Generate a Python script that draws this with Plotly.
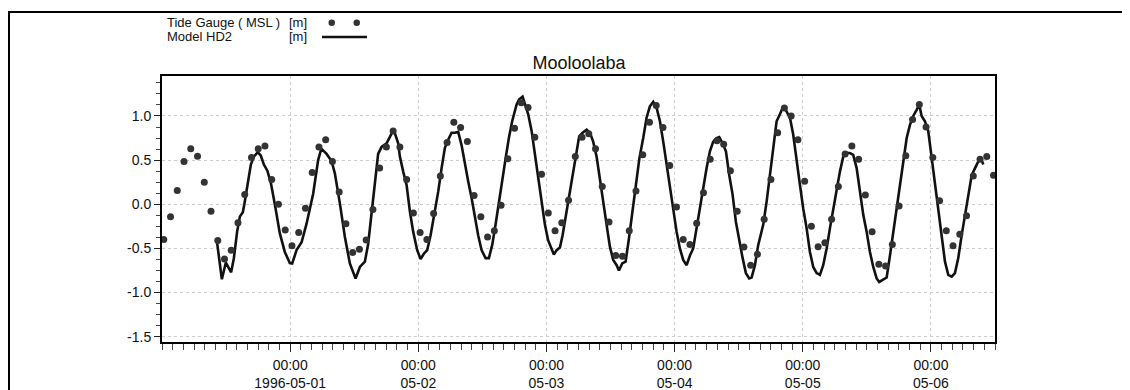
import pandas as pd
import plotly.graph_objects as go

# ---------------- data ----------------
# Tide gauge observations (m, MSL), regular sampling starting 1996-04-30 00:20
obs_start = "1996-04-30 00:20"
obs_step_seconds = 4548
obs_values = [
    -0.40, -0.14, 0.155, 0.485, 0.63, 0.545, 0.25, -0.08, -0.41, -0.62, -0.52, -0.21, 0.11, 0.53, 0.63, 0.66, 0.28, 0.00,
    -0.29, -0.47, -0.32, -0.045, 0.36, 0.65, 0.73, 0.485, 0.14, -0.22, -0.545, -0.51, -0.405, -0.06, 0.41, 0.65, 0.83,
    0.65, 0.28, -0.10, -0.32, -0.40, -0.105, 0.32, 0.70, 0.93, 0.87, 0.71, 0.10, -0.14, -0.37, -0.30, -0.01, 0.515, 0.86,
    1.15, 1.095, 0.76, 0.34, -0.10, -0.30, -0.21, 0.045, 0.54, 0.76, 0.80, 0.63, 0.20, -0.20, -0.58, -0.59, -0.30, 0.15,
    0.56, 0.93, 1.12, 0.87, 0.44, -0.03, -0.40, -0.455, -0.215, 0.13, 0.51, 0.72, 0.68, 0.38, -0.08, -0.485, -0.69, -0.565,
    -0.17, 0.28, 0.81, 1.09, 1.00, 0.73, 0.26, -0.25, -0.48, -0.435, -0.17, 0.20, 0.57, 0.66, 0.51, 0.106, -0.31, -0.68,
    -0.70, -0.455, -0.02, 0.55, 0.96, 1.13, 0.875, 0.53, 0.04, -0.30, -0.47, -0.34, -0.13, 0.32, 0.51, 0.54, 0.33,
]

# Model HD2 (hours since 1996-04-30 00:00, water level m)
model_hours = [
    10.33, 11.21, 11.96, 12.95, 13.46, 14.07, 14.58, 15.14, 15.42, 16.08, 16.64, 17.20, 17.95, 18.51, 19.08, 19.73,
    20.39, 21.13, 22.07, 23.00, 23.94, 24.38, 25.20, 26.14, 27.07, 28.31, 29.24, 29.84, 30.82, 31.75, 32.37, 33.31,
    34.25, 35.18, 36.25, 37.06, 37.99, 38.61, 39.25, 39.87, 40.48, 41.12, 42.06, 42.99, 43.42, 44.23, 44.55, 45.17,
    45.80, 46.42, 47.04, 47.79, 48.43, 49.04, 49.66, 50.30, 51.10, 51.72, 52.36, 52.98, 53.59, 54.23, 54.85, 55.47,
    56.10, 56.72, 57.34, 57.98, 58.59, 59.21, 59.85, 60.60, 61.22, 61.84, 62.47, 63.09, 63.71, 64.35, 64.96, 65.58,
    66.41, 66.89, 67.53, 67.96, 68.58, 69.22, 69.83, 70.45, 71.09, 71.71, 72.32, 72.96, 73.39, 73.90, 74.52, 75.02,
    75.64, 76.26, 76.89, 77.51, 78.13, 78.77, 79.52, 80.14, 80.75, 81.39, 82.01, 82.63, 83.26, 83.88, 84.50, 85.14,
    85.57, 86.19, 86.82, 87.44, 88.06, 88.69, 89.40, 90.12, 90.75, 91.37, 91.99, 92.63, 93.25, 93.87, 94.50, 95.12,
    95.74, 96.37, 96.99, 97.61, 98.25, 98.87, 99.48, 100.12, 100.74, 101.36, 101.99, 102.61, 103.23, 103.86, 104.35,
    104.99, 105.61, 106.23, 106.86, 107.48, 108.10, 108.74, 109.35, 109.97, 110.42, 111.04, 111.66, 112.60, 113.23,
    113.85, 114.47, 115.10, 115.72, 116.34, 116.98, 117.60, 118.21, 118.85, 119.47, 120.09, 120.72, 121.34, 121.96,
    122.60, 123.21, 123.83, 124.47, 125.09, 125.71, 126.34, 126.96, 127.58, 128.22, 128.83, 129.45, 130.09, 130.71,
    131.33, 131.96, 132.58, 133.20, 133.84, 134.32, 135.07, 135.71, 136.33, 136.95, 137.58, 138.20, 138.82, 139.46,
    140.07, 140.69, 141.33, 141.81, 142.26, 142.88, 143.50, 144.14, 144.76, 145.37, 146.01, 146.63, 147.25, 147.89,
    148.50, 149.12, 149.76, 150.38, 151.00, 151.64, 152.26, 152.87, 153.38, 153.81,
]
model_values = [
    -0.44, -0.85, -0.66, -0.77, -0.61, -0.31, -0.14, -0.09, 0.00, 0.24, 0.45, 0.54, 0.59, 0.55, 0.45, 0.38,
    0.24, 0.00, -0.33, -0.54, -0.665, -0.67, -0.52, -0.43, -0.22, 0.12, 0.50, 0.63, 0.57, 0.49, 0.35, 0.01,
    -0.37, -0.67, -0.84, -0.71, -0.65, -0.45, -0.11, 0.20, 0.57, 0.65, 0.69, 0.80, 0.84, 0.69, 0.54, 0.37,
    0.22, -0.08, -0.31, -0.52, -0.62, -0.56, -0.52, -0.35, -0.08, 0.14, 0.41, 0.64, 0.73, 0.81, 0.81, 0.82,
    0.67, 0.45, 0.26, 0.07, -0.16, -0.35, -0.52, -0.61, -0.61, -0.46, -0.23, 0.03, 0.30, 0.52, 0.75, 0.94,
    1.13, 1.19, 1.22, 1.13, 1.02, 0.83, 0.56, 0.30, 0.03, -0.23, -0.41, -0.50, -0.57, -0.52, -0.49, -0.35,
    -0.12, 0.11, 0.33, 0.56, 0.77, 0.81, 0.845, 0.81, 0.71, 0.54, 0.30, 0.03, -0.23, -0.48, -0.63, -0.69,
    -0.75, -0.67, -0.65, -0.39, -0.12, 0.18, 0.52, 0.75, 0.98, 1.11, 1.16, 1.09, 0.94, 0.71, 0.45, 0.18,
    -0.08, -0.31, -0.50, -0.63, -0.69, -0.58, -0.50, -0.27, -0.01, 0.22, 0.41, 0.60, 0.71, 0.75, 0.76,
    0.69, 0.60, 0.33, 0.11, -0.20, -0.42, -0.61, -0.78, -0.84, -0.83, -0.69, -0.46, -0.23, 0.03,
    0.33, 0.67, 0.94, 1.02, 1.11, 1.05, 0.98, 0.79, 0.48, 0.22, -0.05, -0.27, -0.54, -0.71,
    -0.78, -0.80, -0.69, -0.50, -0.27, -0.05, 0.18, 0.37, 0.54, 0.58, 0.58, 0.56, 0.41, 0.14,
    -0.12, -0.31, -0.54, -0.71, -0.84, -0.88, -0.85, -0.83, -0.58, -0.31, -0.05, 0.22, 0.52, 0.75,
    0.90, 1.00, 1.07, 1.13, 1.00, 0.94, 0.83, 0.52, 0.22, -0.08, -0.39, -0.65, -0.80, -0.82,
    -0.78, -0.61, -0.35, -0.12, 0.11, 0.33, 0.41, 0.485, 0.52, 0.45,
]

x_range = ["1996-04-30 00:00", "1996-05-06 12:00"]
day_ticks = ["1996-05-01", "1996-05-02", "1996-05-03", "1996-05-04", "1996-05-05", "1996-05-06"]
day_labels = ["00:00<br>1996-05-01", "00:00<br>05-02", "00:00<br>05-03",
              "00:00<br>05-04", "00:00<br>05-05", "00:00<br>05-06"]
y_ticks = [-1.5, -1.0, -0.5, 0.0, 0.5, 1.0]
y_labels = ["-1.5", "-1.0", "-0.5", "0.0", "0.5", "1.0"]

title = "Mooloolaba"
legend_obs = "Tide Gauge ( MSL )"
legend_model = "Model HD2"
unit = "[m]"

# ---------------- figure ----------------
obs_times = pd.date_range(obs_start, periods=len(obs_values), freq=f"{obs_step_seconds}s")
model_times = pd.Timestamp("1996-04-30") + pd.to_timedelta(model_hours, unit="h")

FONT = "Liberation Sans, Arial, sans-serif"
# the page body has an 8px margin, so the figure starts at screen (8, 8)
OFF = 8
W, H = 1130 - OFF, 390 - OFF
PLOT_L, PLOT_R, PLOT_T, PLOT_B = 162, 995, 76, 342          # screen pixels
ML, MR, MT, MB = PLOT_L - OFF, 1130 - PLOT_R, PLOT_T - OFF, 390 - PLOT_B
PW, PH = PLOT_R - PLOT_L, PLOT_B - PLOT_T


def px(x):
    return (x - PLOT_L) / PW


def py(y):
    return (PLOT_B - y) / PH


fig = go.Figure()
fig.add_trace(go.Scatter(
    x=model_times, y=model_values, mode="lines",
    line=dict(color="#111111", width=2.6), showlegend=False, cliponaxis=False,
))
fig.add_trace(go.Scatter(
    x=obs_times, y=obs_values, mode="markers",
    marker=dict(color="#333333", size=7), showlegend=False, cliponaxis=False,
))

axis_common = dict(
    showline=True, linecolor="black", linewidth=2, mirror=True,
    ticks="outside", tickcolor="#222222", tickwidth=1,
    showgrid=True, gridcolor="#cccccc", gridwidth=1, griddash="dot",
    zeroline=False, automargin=False,
    tickfont=dict(family=FONT, size=14, color="#111111"),
)

fig.update_xaxes(
    type="date", range=x_range, tickmode="array", tickvals=day_ticks, ticktext=day_labels,
    ticklen=8, ticklabelstandoff=1,
    minor=dict(tickmode="linear", tick0="1996-04-30", dtick=2 * 3600 * 1000,
               ticks="outside", ticklen=6, tickcolor="#444444", showgrid=False),
    **axis_common,
)
fig.update_yaxes(
    range=[-1.56, 1.453], tickmode="array", tickvals=y_ticks, ticktext=y_labels,
    ticklen=6,
    minor=dict(tickmode="linear", tick0=0, dtick=0.125, ticks="outside", ticklen=4,
               tickcolor="#444444", showgrid=False),
    **axis_common,
)

shapes = [
    # outer frame (top and left edges)
    dict(type="line", xref="paper", yref="paper", x0=px(8), x1=px(1131), y0=py(12), y1=py(12),
         line=dict(color="black", width=2)),
    dict(type="line", xref="paper", yref="paper", x0=px(9), x1=px(9), y0=py(11), y1=py(391),
         line=dict(color="black", width=2)),
    # legend symbols
    dict(type="circle", xref="paper", yref="paper", x0=px(328.5), x1=px(335), y0=py(19.5), y1=py(26),
         fillcolor="#333333", line=dict(width=0)),
    dict(type="circle", xref="paper", yref="paper", x0=px(353.5), x1=px(360), y0=py(19.5), y1=py(26),
         fillcolor="#333333", line=dict(width=0)),
    dict(type="line", xref="paper", yref="paper", x0=px(322), x1=px(367), y0=py(37), y1=py(37),
         line=dict(color="#111111", width=2.5)),
]

lf = dict(family=FONT, size=13, color="#111111")
annotations = [
    dict(text=legend_obs, xref="paper", yref="paper", x=px(165), y=py(22), xanchor="left",
         yanchor="middle", showarrow=False, font=lf),
    dict(text=unit, xref="paper", yref="paper", x=px(309), y=py(22), xanchor="right",
         yanchor="middle", showarrow=False, font=lf),
    dict(text=legend_model, xref="paper", yref="paper", x=px(165), y=py(37), xanchor="left",
         yanchor="middle", showarrow=False, font=lf),
    dict(text=unit, xref="paper", yref="paper", x=px(309), y=py(37), xanchor="right",
         yanchor="middle", showarrow=False, font=lf),
]

fig.update_layout(
    width=W, height=H, margin=dict(l=ML, r=MR, t=MT, b=MB, autoexpand=False),
    paper_bgcolor="white", plot_bgcolor="white",
    title=dict(text=title, x=px(579), xanchor="center", xref="paper",
               y=1 - (63 - OFF) / H, yref="container", yanchor="middle",
               font=dict(family=FONT, size=18, color="#111111")),
    shapes=shapes, annotations=annotations, showlegend=False,
)

fig.write_html("out.html", config={"displayModeBar": False})
